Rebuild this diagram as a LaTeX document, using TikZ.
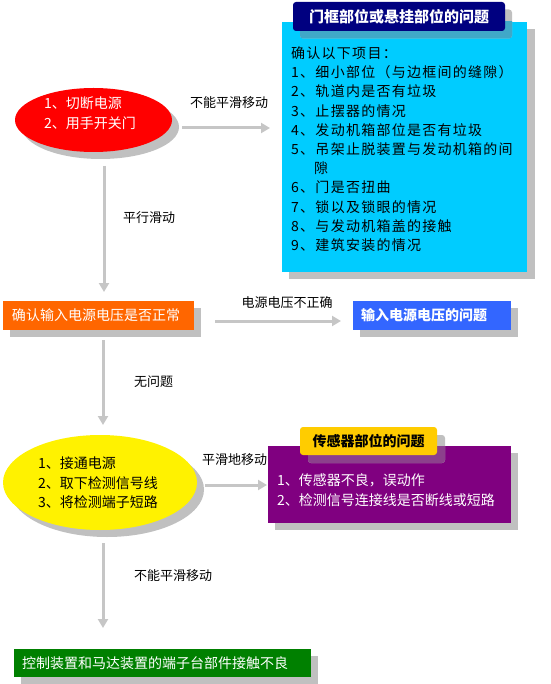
\documentclass[tikz,border=0pt]{standalone}
\usepackage{fontspec}
\setmainfont{Noto Sans CJK SC}
\usetikzlibrary{shapes.geometric,shadows,arrows.meta,calc}
\definecolor{shd}{RGB}{192,192,192}
\definecolor{arrc}{RGB}{198,198,198}
\definecolor{cyanbox}{RGB}{0,204,255}
\definecolor{navyhd}{RGB}{0,0,128}
\definecolor{cyanshd}{RGB}{64,168,200}
\definecolor{orangebox}{RGB}{255,102,0}
\definecolor{bluebox}{RGB}{51,102,255}
\definecolor{purplebox}{RGB}{128,0,128}
\definecolor{goldhd}{RGB}{255,204,0}
\definecolor{purpleshd}{RGB}{140,64,140}
\definecolor{greenbox}{RGB}{0,128,0}
\tikzset{
  shad/.style={drop shadow={shadow xshift=7pt,shadow yshift=-7pt,fill=shd,opacity=1}},
  box/.style={rectangle, inner sep=0pt, outer sep=0pt, shad},
  hdbox/.style={rectangle, rounded corners=3pt, inner sep=0pt, outer sep=0pt},
  arr/.style={draw=arrc, line width=3pt, -{Triangle[width=10pt,length=9pt]}},
  lbl/.style={font=\fontsize{13}{15}\selectfont, inner sep=0pt, anchor=west},
  txt14/.style={font=\fontsize{14}{16}\selectfont},
}
\begin{document}
\begin{tikzpicture}[x=1pt,y=-1pt]
\useasboundingbox (0,0) rectangle (550,684);

% ---- red ellipse
\node[ellipse, fill=red, minimum width=157pt, minimum height=64pt, inner sep=0pt, outer sep=0pt, shad] (e1) at (93.5,120) {};
\node[anchor=west, text=white, align=left, inner sep=0pt, font=\fontsize{14}{20}\selectfont] (e1t) at (44,113) {1、切断电源\\2、用手开关门};

% ---- cyan box
\node[box, fill=cyanbox, minimum width=245pt, minimum height=250pt, drop shadow={shadow xshift=8pt,shadow yshift=-7pt,fill=shd,opacity=1}] (cyan) at (404.5,147) {};
\node[anchor=north west, inner sep=0pt, align=left, font=\fontsize{14}{19.2}\selectfont\addfontfeature{LetterSpace=9}] (cyant) at (291,46.5) {确认以下项目：\\
1、细小部位（与边框间的缝隙）\\
2、轨道内是否有垃圾\\
3、止摆器的情况\\
4、发动机箱部位是否有垃圾\\
5、吊架止脱装置与发动机箱的间\\
\phantom{5、}隙\\
6、门是否扭曲\\
7、锁以及锁眼的情况\\
8、与发动机箱盖的接触\\
9、建筑安装的情况};
\fill[shd, rounded corners=3pt] (300,9.5) rectangle (512,38.5);
\begin{scope}
  \clip (cyan.north west) rectangle (cyan.south east);
  \fill[cyanshd, rounded corners=3pt] (300,9.5) rectangle (512,38.5);
\end{scope}
\node[hdbox, fill=navyhd, minimum width=212pt, minimum height=29pt, text=white, font=\bfseries\fontsize{15}{17}\selectfont] (hd1) at (399,16.5) {门框部位或悬挂部位的问题};

% ---- arrow 1 (right)
\draw[arr] ([shift={(10,8)}]e1.east) -- ([shift={(-12,-19)}]cyan.west);
\node[lbl] (l1) at (190,103) {不能平滑移动};

% ---- orange box
\node[box, fill=orangebox, minimum width=191pt, minimum height=29pt, text width=173pt, inner xsep=9pt, align=left, text=white, txt14] (orange) at (98.5,315.5) {确认输入电源电压是否正常};

% ---- arrow 2 (down)
\draw[arr] ([shift={(10.5,14)}]e1.south) -- ([shift={(5.5,-9)}]orange.north);
\node[lbl] (l2) at (123,218) {平行滑动};

% ---- blue box
\node[box, fill=bluebox, minimum width=158pt, minimum height=29pt, text width=142pt, inner xsep=8pt, align=left, text=white, font=\bfseries\fontsize{14}{16}\selectfont] (blue) at (432,315.5) {输入电源电压的问题};
\draw[arr] ([shift={(21,5.5)}]orange.east) -- ([shift={(-12,5.5)}]blue.west);
\node[lbl, anchor=center] (l3) at (287,303) {电源电压不正确};

% ---- yellow ellipse
\node[ellipse, fill=yellow, minimum width=194pt, minimum height=95pt, inner sep=0pt, outer sep=0pt, shad] (e2) at (100,482.5) {};
\node[anchor=west, align=left, inner sep=0pt, font=\fontsize{14}{19.5}\selectfont] (e2t) at (38,483) {1、接通电源\\2、取下检测信号线\\3、将检测端子短路};
\draw[arr] ([shift={(4.5,10)}]orange.south) -- ([shift={(3,-10)}]e2.north);
\node[lbl] (l4) at (134,382) {无问题};

% ---- purple box
\node[box, fill=purplebox, minimum width=243pt, minimum height=77pt, shad] (purple) at (389.5,484.5) {};
\node[anchor=west, align=left, inner sep=0pt, text=white, font=\fontsize{14}{20}\selectfont] (purplet) at (277,490) {1、传感器不良，误动作\\2、检测信号连接线是否断线或短路};
\fill[shd, rounded corners=3pt] (308,435) rectangle (445,463);
\begin{scope}
  \clip (purple.north west) rectangle (purple.south east);
  \fill[purpleshd, rounded corners=3pt] (308,435) rectangle (445,463);
\end{scope}
\node[hdbox, fill=goldhd, minimum width=137pt, minimum height=28pt, font=\bfseries\fontsize{14}{16}\selectfont] (hd2) at (368.5,441) {传感器部位的问题};
\draw[arr] ([shift={(8,2.5)}]e2.east) -- ([shift={(-1,0.5)}]purple.west);
\node[lbl] (l5) at (202,460) {平滑地移动};

% ---- green box
\node[box, fill=greenbox, minimum width=297pt, minimum height=28pt, text width=281pt, inner xsep=8pt, align=left, text=white, txt14] (green) at (162.5,663) {控制装置和马达装置的端子台部件接触不良};
\draw[arr] ([shift={(3,13)}]e2.south) -- ([shift={(-59.5,-21)}]green.north);
\node[lbl] (l6) at (134,576) {不能平滑移动};
\end{tikzpicture}
\end{document}
